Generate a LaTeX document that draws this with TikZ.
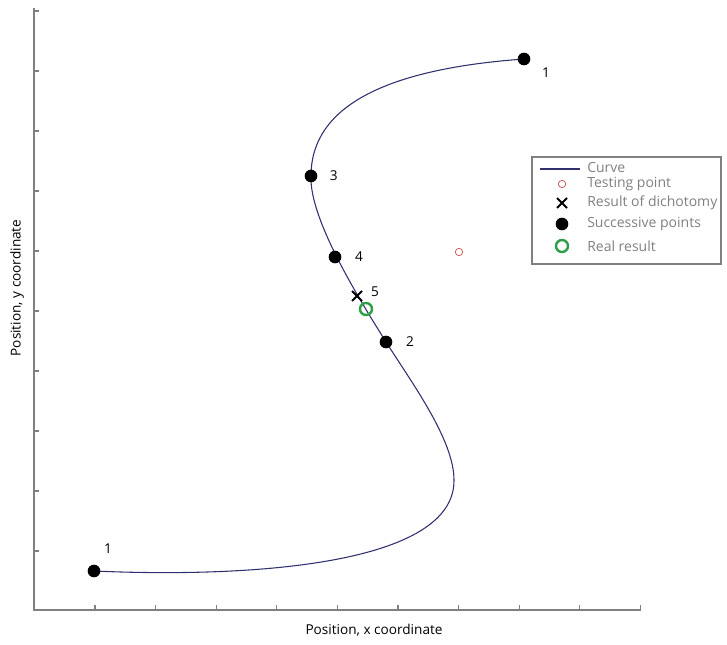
\documentclass[tikz,border=0pt]{standalone}
\usepackage{fontspec}
\setmainfont{Open Sans}
\usetikzlibrary{positioning}
\definecolor{curveblue}{RGB}{48,48,112}
\definecolor{axisgray}{RGB}{128,128,128}
\definecolor{legtext}{RGB}{128,128,128}
\definecolor{realgreen}{RGB}{44,160,72}
\definecolor{testred}{RGB}{205,90,90}

\begin{document}
\begin{tikzpicture}[x=0.75pt,y=-0.75pt, font=\fontsize{10.2}{12}\selectfont,
  axis/.style={draw=axisgray,line width=1.4pt},
  tick/.style={draw=axisgray,line width=0.8pt},
  curve/.style={draw=curveblue,line width=0.8pt},
  dotpt/.style={circle,fill=black,inner sep=0pt,minimum size=9.5pt},
  realpt/.style={circle,draw=realgreen,line width=1.8pt,inner sep=0pt,minimum size=9pt},
  testpt/.style={circle,draw=testred,line width=0.6pt,inner sep=0pt,minimum size=5.5pt},
  crosspt/.style={line width=1.5pt},
  lbl/.style={inner sep=0pt},
  legtxt/.style={anchor=west,text=legtext,inner sep=0pt,font=\fontsize{10.5}{12}\selectfont}]
\useasboundingbox (0,0) rectangle (727,645);

% axes
\coordinate (org) at (34,610);
\draw[axis] (34,8) -- (org) -- (641,610);
\foreach \i in {0,...,9} {
  \draw[tick] (95+60.6*\i,610) -- ++(0,-5);
  \draw[tick] (34,551-60*\i) -- ++(5,0);
}
\node (xlab) at (374,630) {Position, x coordinate};
\node[rotate=90] (ylab) at (17,288) {Position, y coordinate};

% curve through the successive points
\coordinate (s1) at (94,571);
\coordinate (bend) at (454,480);
\coordinate (s2) at (386,342);
\coordinate (s3) at (311,176);
\coordinate (e1) at (524,59);
\draw[curve] (s1) .. controls (250,578) and (455,565) .. (bend)
  .. controls (454,440) and (412,383) .. (s2)
  .. controls (363,305) and (309,220) .. (s3)
  .. controls (311,100) and (400,68) .. (e1);

\node[dotpt] (p1a) at (s1) {};
\node[dotpt] (p1b) at (e1) {};
\node[dotpt] (p2) at (s2) {};
\node[dotpt] (p3) at (s3) {};
\node[dotpt] (p4) at (335,257) {};
\node[realpt] (real) at (366,309) {};
\node[testpt] (test) at (459,252) {};
\coordinate (dich) at (357,296);
\draw[crosspt] ([shift={(-5,-5)}]dich) -- ([shift={(5,5)}]dich)
  ([shift={(-5,5)}]dich) -- ([shift={(5,-5)}]dich);

\node[lbl] (n1a) at (108,549) {1};
\node[lbl] (n1b) at (546,73) {1};
\node[lbl, right=10pt of p2] (n2) {2};
\node[lbl, right=9pt of p3] (n3) {3};
\node[lbl, right=10pt of p4] (n4) {4};
\node[lbl] (n5) at (375,292) {5};

% legend
\draw[draw=axisgray,line width=1pt] (532,157) rectangle (721,264);
\draw[curve] (540,169) -- (580,169);
\node[testpt] (ltest) at (562,184) {};
\coordinate (lcross) at (562,203);
\draw[crosspt] ([shift={(-5,-5)}]lcross) -- ([shift={(5,5)}]lcross)
  ([shift={(-5,5)}]lcross) -- ([shift={(5,-5)}]lcross);
\node[dotpt] (ldot) at (562,224) {};
\node[realpt] (lreal) at (562,246) {};
\node[legtxt] at (587,168) {Curve};
\node[legtxt] at (587,184) {Testing point};
\node[legtxt] at (587,203) {Result of dichotomy};
\node[legtxt] at (587,224) {Successive points};
\node[legtxt] at (587,246) {Real result};
\end{tikzpicture}
\end{document}
